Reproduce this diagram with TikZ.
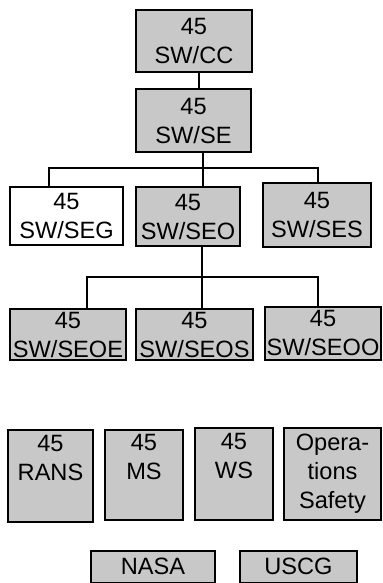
\documentclass[tikz,border=0pt]{standalone}
\usepackage{fontspec}
\setmainfont{Liberation Sans}
\usetikzlibrary{positioning}
\definecolor{unit_gray}{RGB}{200, 200, 200}

\begin{document}
\begin{tikzpicture}[x=0.5pt, y=-0.5pt, font=\fontsize{11.8}{14.5}\selectfont,
    unit/.style={draw, line width=1pt, fill=unit_gray, align=center, inner sep=0pt},
    blank/.style={unit, fill=white},
    topped/.style={unit, text depth=18.5pt},
    link/.style={line width=1pt}]

      \useasboundingbox (0,0) rectangle (382,583);

      % 1. Mando superior
      \node[unit, minimum width=58pt, minimum height=31pt] (cc) at (194,41) {45\\SW/CC};
      \node[unit, minimum width=57.5pt, minimum height=31.5pt] (se) at (193.5,120.5) {45\\SW/SE};

      % 2. Segundo nivel
      \node[blank, minimum width=56.5pt, minimum height=29pt] (seg) at (66.5,216) {45\\SW/SEG};
      \node[unit, minimum width=52pt, minimum height=29.5pt] (seo) at (188,216.5) {45\\SW/SEO};
      \node[unit, minimum width=54pt, minimum height=32pt] (ses) at (317,215) {45\\SW/SES};

      % 3. Tercer nivel
      \node[unit, minimum width=58pt, minimum height=25.5pt] (seoe) at (68,334.5) {45\\SW/SEOE};
      \node[unit, minimum width=58.5pt, minimum height=25.5pt] (seos) at (194.5,334.5) {45\\SW/SEOS};
      \node[unit, minimum width=58pt, minimum height=26.5pt] (seoo) at (323,333) {45\\SW/SEOO};

      % 4. Unidades de apoyo
      \node[topped, minimum width=42.5pt, minimum height=46pt] (rans) at (50.5,476) {45\\RANS};
      \node[topped, minimum width=39pt, minimum height=45pt] (ms) at (144,475) {45\\MS};
      \node[topped, minimum width=39pt, minimum height=46pt] (ws) at (234,474) {45\\WS};
      \node[unit, minimum width=48.5pt, minimum height=46pt] (ops) at (332.5,474) {Opera-\\tions\\Safety};

      % 5. Agencias externas
      \node[unit, minimum width=62pt, minimum height=16pt] (nasa) at (153,566.5) {NASA};
      \node[unit, minimum width=58.5pt, minimum height=16pt] (uscg) at (298.5,566.5) {USCG};

      % 6. Conectores
      \coordinate (stem) at (199,80);
      \draw[link] (stem |- cc.south) -- (stem |- se.north);

      \coordinate (busL) at (49,168);
      \coordinate (busM) at (203,168);
      \coordinate (busR) at (318,168);
      \draw[link] (busM |- se.south) -- (busM |- seo.north);
      \draw[link] (busL |- seg.north) -- (busL) -- (busR) -- (busR |- ses.north);

      \coordinate (subL) at (87,277);
      \coordinate (subM) at (202,277);
      \coordinate (subR) at (318,277);
      \draw[link] (subM |- seo.south) -- (subM |- seos.north);
      \draw[link] (subL |- seoe.north) -- (subL) -- (subR) -- (subR |- seoo.north);

    \end{tikzpicture}
\end{document}
